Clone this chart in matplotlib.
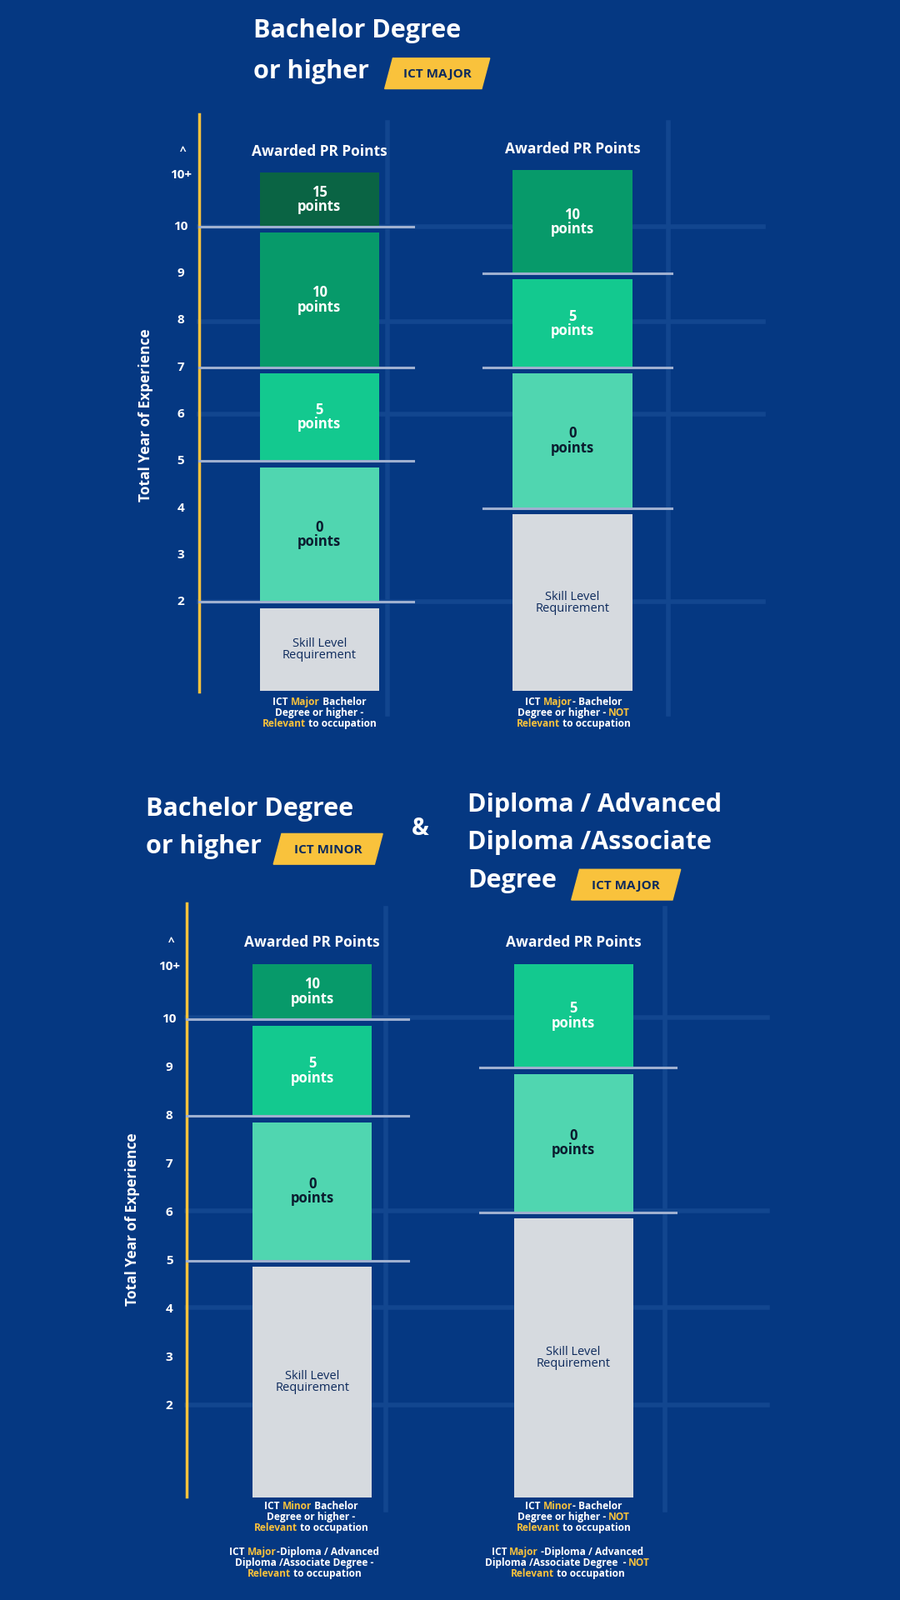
import matplotlib
matplotlib.use("Agg")
import matplotlib.pyplot as plt
from matplotlib.patches import Polygon

# ---- data (years of experience -> awarded points) ----
p1_edges = [0.1, 2, 5, 7, 10, 11.15]
p1_labels = ["Skill Level\nRequirement", "0\npoints", "5\npoints", "10\npoints", "15\npoints"]
p2_edges = [0.1, 4, 7, 9, 11.2]
p2_labels = ["Skill Level\nRequirement", "0\npoints", "5\npoints", "10\npoints"]
p3_edges = [0.1, 5, 8, 10, 11.15]
p3_labels = ["Skill Level\nRequirement", "0\npoints", "5\npoints", "10\npoints"]
p4_edges = [0.1, 6, 9, 11.15]
p4_labels = ["Skill Level\nRequirement", "0\npoints", "5\npoints"]
tick_years = [2, 3, 4, 5, 6, 7, 8, 9, 10]

BG = "#053882"
YEL = "#f9c23c"
NAVY = "#0d2a5c"
LINE = "#9fb0d0"
GRID = "#12468f"
COLORS = {"15": "#0a6444", "10": "#079a6a", "5": "#13c98f", "0": "#50d6b0", "S": "#d6dadf"}
FONT = "Open Sans"

W, H = 882, 1568
fig = plt.figure(figsize=(10.8, 19.2), dpi=100, facecolor=BG)
bg = fig.add_axes([0, 0, 1, 1])
bg.set_xlim(0, W); bg.set_ylim(H, 0); bg.axis("off"); bg.set_facecolor(BG)

# faint background grid
for x, y0, y1 in [(380, 120, 700), (655, 120, 700), (378, 890, 1480), (652, 890, 1480)]:
    bg.plot([x, x], [y0, y1], color=GRID, lw=4, zorder=0)
for y in [222, 315, 406, 590]:
    bg.plot([195, 748], [y, y], color=GRID, lw=4, zorder=0)
for y in [997, 1187, 1281, 1377]:
    bg.plot([183, 752], [y, y], color=GRID, lw=4, zorder=0)


def badge(x0, x1, y0, y1, text):
    sl = 8
    bg.add_patch(Polygon([(x0 + sl, y0), (x1, y0), (x1 - sl, y1), (x0, y1)], closed=True,
                         color=YEL, zorder=3))
    bg.text((x0 + x1) / 2, (y0 + y1) / 2 + 1, text, ha="center", va="center", fontsize=11,
            fontweight="bold", color=NAVY, family=FONT, zorder=4)


def title(x, y, s, size=22):
    bg.text(x, y, s, ha="left", va="center", fontsize=size, fontweight="bold", color="white",
            family=FONT)


title(248, 30, "Bachelor Degree")
title(248, 70, "or higher")
badge(377, 480, 57, 87, "ICT MAJOR")
title(143, 793, "Bachelor Degree")
title(143, 830, "or higher")
badge(268, 375, 817, 847, "ICT MINOR")
bg.text(412, 812, "&", ha="center", va="center", fontsize=20, fontweight="bold", color="white", family=FONT)
title(458, 789, "Diploma / Advanced")
title(458, 826, "Diploma /Associate")
title(458, 863, "Degree")
badge(560, 667, 852, 882, "ICT MAJOR")

bg.text(143, 407, "Total Year of Experience", rotation=90, ha="center", va="center", fontsize=12.5,
        fontweight="bold", color="white", family=FONT)
bg.text(130, 1195, "Total Year of Experience", rotation=90, ha="center", va="center", fontsize=12.5,
        fontweight="bold", color="white", family=FONT)
bg.plot([195, 195], [112, 678], color=YEL, lw=2.5)
bg.plot([183, 183], [885, 1467], color=YEL, lw=2.5)


def panel(x0, x1, ybot, ppy, edges, labels, bx, lx0, lx1, tick_x=None, top_px=100):
    ymax = (ybot - top_px) / ppy
    ax = fig.add_axes([x0 / W, 1 - ybot / H, (x1 - x0) / W, (ybot - top_px) / H])
    ax.set_xlim(x0, x1); ax.set_ylim(0, ymax); ax.axis("off")
    for lo, hi, lab in zip(edges[:-1], edges[1:], labels):
        key = "S" if lab.startswith("Skill") else lab.split("\n")[0]
        top = hi if hi == edges[-1] else hi - 0.13
        ax.bar(bx, top - lo, bottom=lo, width=117, color=COLORS[key], zorder=2)
        if key == "S":
            tc, fs, fw = NAVY, 10.5, "medium"
        else:
            tc, fs, fw = ("white" if key != "0" else "#0b1b2e"), 12, "bold"
        ax.text(bx, (lo + top) / 2, lab, ha="center", va="center", color=tc, fontsize=fs,
                fontweight=fw, family=FONT, linespacing=0.95, zorder=3)
    for e in edges[1:-1]:
        ax.plot([lx0, lx1], [e, e], color=LINE, lw=2.2, zorder=3)
    if tick_x is not None:
        for t in tick_years:
            ax.text(tick_x, t, str(t), ha="center", va="center", color="white", fontsize=11,
                    fontweight="bold", family=FONT)
        ax.text(tick_x, edges[-1] - 0.05, "10+", ha="center", va="center", color="white",
                fontsize=11, fontweight="bold", family=FONT)
        ax.text(tick_x + 2, edges[-1] + 0.45, "^", ha="center", va="center", color="white",
                fontsize=10, fontweight="bold", family=FONT)
    ax.text(bx, edges[-1] + 0.45, "Awarded PR Points", ha="center", va="center", color="white",
            fontsize=12.5, fontweight="bold", family=FONT)
    return ax


panel(150, 760, 682, 46, p1_edges, p1_labels, 313, 195, 405, tick_x=177)
panel(150, 760, 682, 46, p2_edges, p2_labels, 561, 474, 658)
panel(140, 760, 1472, 47.3, p3_edges, p3_labels, 306, 183, 400, tick_x=166, top_px=880)
panel(140, 760, 1472, 47.3, p4_edges, p4_labels, 562, 470, 662, top_px=880)

fig.canvas.draw()
renderer = fig.canvas.get_renderer()


def mline(cx, y, pieces, size=8.6):
    texts, widths = [], []
    for s, c in pieces:
        t = bg.text(0, y, s, ha="left", va="center", color=c, fontsize=size, fontweight="bold",
                    family=FONT)
        widths.append(t.get_window_extent(renderer).width * W / fig.bbox.width)
        texts.append(t)
    x = cx - sum(widths) / 2
    for t, w in zip(texts, widths):
        t.set_x(x); x += w


Wt = "white"
lab_blocks = [
    (313, 688, [[("ICT ", Wt), ("Major", YEL), (" Bachelor", Wt)], [("Degree or higher -", Wt)],
                [("Relevant", YEL), (" to occupation", Wt)]]),
    (562, 688, [[("ICT ", Wt), ("Major", YEL), ("- Bachelor", Wt)], [("Degree or higher - ", Wt), ("NOT", YEL)],
                [("Relevant", YEL), (" to occupation", Wt)]]),
    (305, 1476, [[("ICT ", Wt), ("Minor", YEL), (" Bachelor", Wt)], [("Degree or higher -", Wt)],
                 [("Relevant", YEL), (" to occupation", Wt)]]),
    (562, 1476, [[("ICT ", Wt), ("Minor", YEL), ("- Bachelor", Wt)], [("Degree or higher - ", Wt), ("NOT", YEL)],
                 [("Relevant", YEL), (" to occupation", Wt)]]),
    (298, 1521, [[("ICT ", Wt), ("Major", YEL), ("-Diploma / Advanced", Wt)], [("Diploma /Associate Degree -", Wt)],
                 [("Relevant", YEL), (" to occupation", Wt)]]),
    (556, 1521, [[("ICT ", Wt), ("Major", YEL), (" -Diploma / Advanced", Wt)],
                 [("Diploma /Associate Degree  - ", Wt), ("NOT", YEL)],
                 [("Relevant", YEL), (" to occupation", Wt)]]),
]
for cx, y0, lines in lab_blocks:
    for i, pieces in enumerate(lines):
        mline(cx, y0 + i * 10.7, pieces)

fig.savefig("out.png", dpi=100, facecolor=BG)
